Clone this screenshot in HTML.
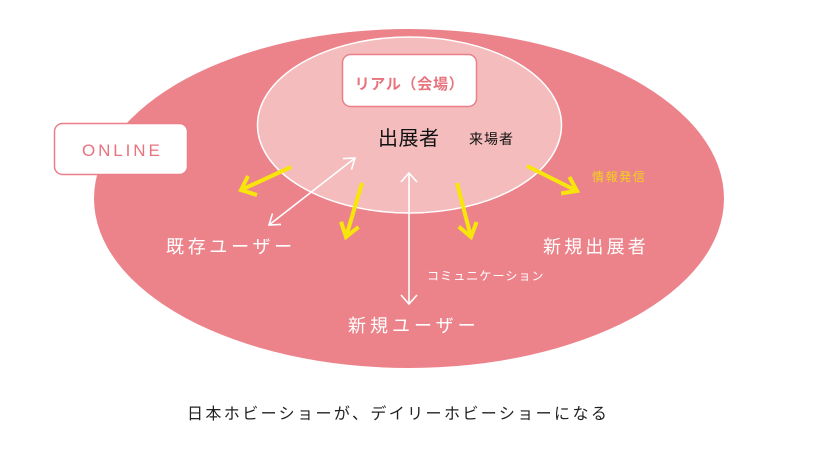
<!DOCTYPE html>
<html>
<head>
<meta charset="utf-8">
<style>
html,body{margin:0;padding:0;background:#fff;}
body{width:820px;height:463px;overflow:hidden;}
svg{display:block;}
text{font-family:"Liberation Sans","Noto Sans CJK JP",sans-serif;}
.jp{font-family:"Noto Sans CJK JP","Liberation Sans",sans-serif;}
</style>
</head>
<body>
<svg width="820" height="463" viewBox="0 0 820 463" xmlns="http://www.w3.org/2000/svg">
  <!-- outer ellipse -->
  <ellipse cx="409" cy="198.5" rx="315" ry="169.5" fill="#ec838a"/>
  <!-- inner ellipse -->
  <ellipse cx="409.5" cy="125" rx="152" ry="88" fill="#f5bcbd" stroke="#ffffff" stroke-width="1.5"/>

  <!-- ONLINE box -->
  <rect x="54.5" y="123.5" width="133" height="51" rx="8" ry="8" fill="#ffffff" stroke="#ea7f88" stroke-width="1.5"/>
  <text x="82" y="156" font-size="17" fill="#e8737d" letter-spacing="2.9">ONLINE</text>

  <!-- Real box -->
  <rect x="342.5" y="54.5" width="134" height="52" rx="8" ry="8" fill="#ffffff" stroke="#ea7f88" stroke-width="1.5"/>
  <text class="jp" x="409.5" y="89" font-size="15" font-weight="bold" fill="#e8737d" text-anchor="middle" letter-spacing="0.7">リアル（会場）</text>

  <!-- center labels -->
  <text class="jp" x="378" y="145" font-size="20" fill="#111" letter-spacing="0.5">出展者</text>
  <text class="jp" x="469" y="144" font-size="14" fill="#111" letter-spacing="1">来場者</text>

  <!-- yellow arrows -->
  <g stroke="#f8e60a" stroke-width="4" fill="none" stroke-linecap="butt" stroke-linejoin="miter">
    <line x1="291" y1="167" x2="241" y2="190"/>
    <polyline points="257,195 241,190 248,176"/>
    <line x1="362" y1="183" x2="346" y2="237"/>
    <polyline points="358.5,227 346,237 341,221.8"/>
    <line x1="457" y1="183" x2="471" y2="237"/>
    <polyline points="476.6,222 471,237 458.8,226.6"/>
    <line x1="527" y1="166" x2="577" y2="191"/>
    <polyline points="569.4,176.9 577,191 561.2,193.4"/>
  </g>

  <!-- white arrows -->
  <g stroke="#ffffff" stroke-width="1.6" fill="none">
    <line x1="269" y1="225" x2="355" y2="158"/>
    <polyline points="343,158.6 355,158 351.5,169.5"/>
    <polyline points="281,224.4 269,225 272.5,213.5"/>
    <line x1="409" y1="173" x2="409" y2="304"/>
    <polyline points="401,182 409,173 417,182"/>
    <polyline points="401,295 409,304 417,295"/>
  </g>

  <!-- labels -->
  <text class="jp" x="592" y="181" font-size="12" fill="#f2d21c" letter-spacing="1.6">情報発信</text>
  <text class="jp" x="543" y="253" font-size="18" fill="#ffffff" letter-spacing="3.2">新規出展者</text>
  <text class="jp" x="166" y="253" font-size="18" fill="#ffffff" letter-spacing="3.7">既存ユーザー</text>
  <text class="jp" x="427" y="280" font-size="12" fill="#ffffff" letter-spacing="1.1">コミュニケーション</text>
  <text class="jp" x="348" y="332" font-size="18" fill="#ffffff" letter-spacing="4">新規ユーザー</text>

  <!-- bottom caption -->
  <text class="jp" x="187" y="419" font-size="16" fill="#222" letter-spacing="2.4">日本ホビーショーが、デイリーホビーショーになる</text>
</svg>
</body>
</html>
